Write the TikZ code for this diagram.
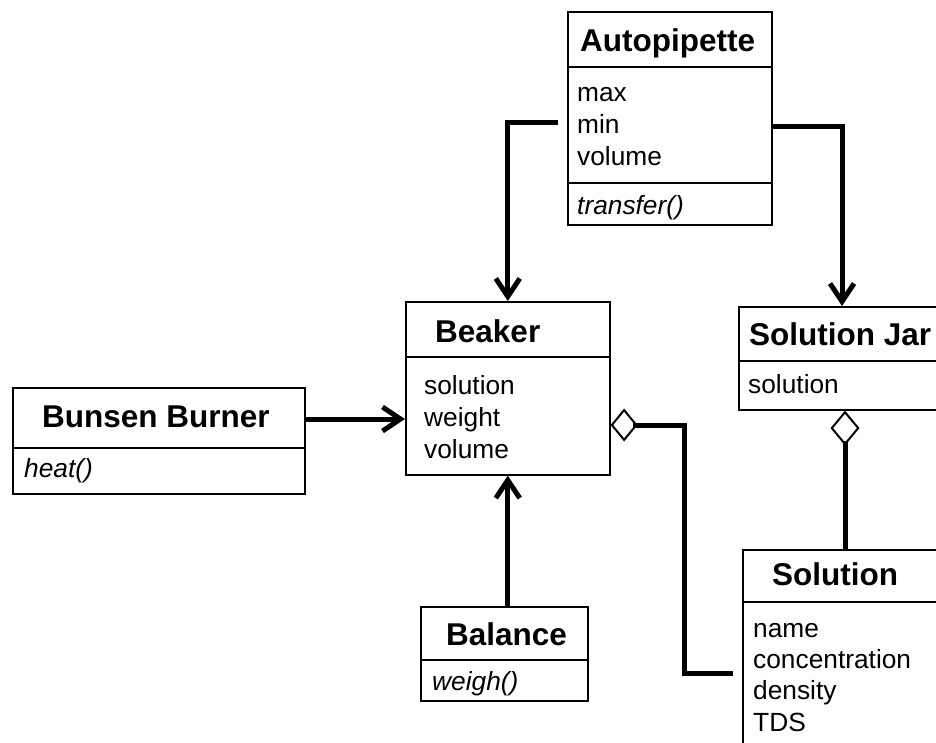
\documentclass[tikz,border=0pt]{standalone}
\usepackage{fontspec}
\setmainfont{Liberation Sans}
\usetikzlibrary{arrows.meta}
\begin{document}
\begin{tikzpicture}[x=1pt,y=-1pt,
  classbox/.style={draw, line width=1.6pt, anchor=north west, inner sep=0pt, fill=white},
  divider/.style={line width=2.4pt},
  title/.style={anchor=base west, inner sep=0pt, font=\fontsize{31.5}{36}\selectfont\bfseries},
  member/.style={anchor=base west, inner sep=0pt, font=\fontsize{26.3}{31}\selectfont},
  op/.style={anchor=base west, inner sep=0pt, font=\fontsize{26.3}{31}\selectfont\itshape},
  conn/.style={line width=5pt},
  assoc/.style={conn, -{Straight Barb[length=18pt,width=24pt]}},
  aggr/.style 2 args={conn, {Diamond[open,length=#1,width=#2,line width=2pt]}-},
]
\useasboundingbox (0,0) rectangle (936,742);
\clip (0,0) rectangle (936,742);

% --- Autopipette ---
\node[classbox, minimum width=204pt, minimum height=213pt] (ap) at (567,11) {};
\draw[divider] (ap.west |- 0,67) -- (ap.east |- 0,67);
\draw[divider] (ap.west |- 0,183) -- (ap.east |- 0,183);
\node[title] (apT) at (580,51) {Autopipette};
\node[member] (apA1) at (577,101) {max};
\node[member] (apA2) at (577,133) {min};
\node[member] (apA3) at (577,165) {volume};
\node[op] (apO1) at (577,214) {transfer()};

% --- Beaker ---
\node[classbox, minimum width=204pt, minimum height=173pt] (bk) at (405,301) {};
\draw[divider] (bk.west |- 0,357) -- (bk.east |- 0,357);
\node[title] (bkT) at (435,342) {Beaker};
\node[member] (bkA1) at (424,394) {solution};
\node[member] (bkA2) at (424,426) {weight};
\node[member] (bkA3) at (424,458) {volume};

% --- Solution Jar ---
\node[classbox, minimum width=230pt, minimum height=103pt] (sj) at (738,306) {};
\draw[divider] (sj.west |- 0,361) -- (sj.east |- 0,361);
\node[title] (sjT) at (749,345) {Solution Jar};
\node[member] (sjA1) at (748,393) {solution};

% --- Bunsen Burner ---
\node[classbox, minimum width=292pt, minimum height=106pt] (bb) at (12,387) {};
\draw[divider] (bb.west |- 0,448) -- (bb.east |- 0,448);
\node[title] (bbT) at (42,427) {Bunsen Burner};
\node[op] (bbO1) at (24,477) {heat()};

% --- Balance ---
\node[classbox, minimum width=167pt, minimum height=94pt] (bl) at (420,606) {};
\draw[divider] (bl.west |- 0,660) -- (bl.east |- 0,660);
\node[title] (blT) at (446,645) {Balance};
\node[op] (blO1) at (432,690) {weigh()};

% --- Solution ---
\node[classbox, minimum width=230pt, minimum height=230pt] (so) at (742,549) {};
\draw[divider] (so.west |- 0,602) -- (so.east |- 0,602);
\node[title] (soT) at (772,585) {Solution};
\node[member] (soA1) at (753,637) {name};
\node[member] (soA2) at (753,668) {concentration};
\node[member] (soA3) at (753,699) {density};
\node[member] (soA4) at (753,731) {TDS};

% --- connectors ---
\coordinate (apL) at ([xshift=-9pt]ap.west);
\coordinate (sjIn) at ([xshift=104pt]sj.north west);
\coordinate (sjOut) at ([xshift=107pt]sj.south west);
\coordinate (soL) at ([xshift=-9pt]so.west);

\draw[assoc] (apL |- 0,122) -| (bk.north);
\draw[assoc] (ap.east |- 0,126) -| (sjIn);
\draw[assoc] (bb.east |- 0,419) -- (bk.west |- 0,419);
\draw[assoc] (bk.south |- bl.north) -- (bk.south);
\draw[aggr={27pt}{33pt}] (bk.east |- 0,425) -| (684,673) -- (soL |- 0,673);
\draw[aggr={35pt}{29pt}] (sjOut) -- (sjOut |- so.north);
\end{tikzpicture}
\end{document}
